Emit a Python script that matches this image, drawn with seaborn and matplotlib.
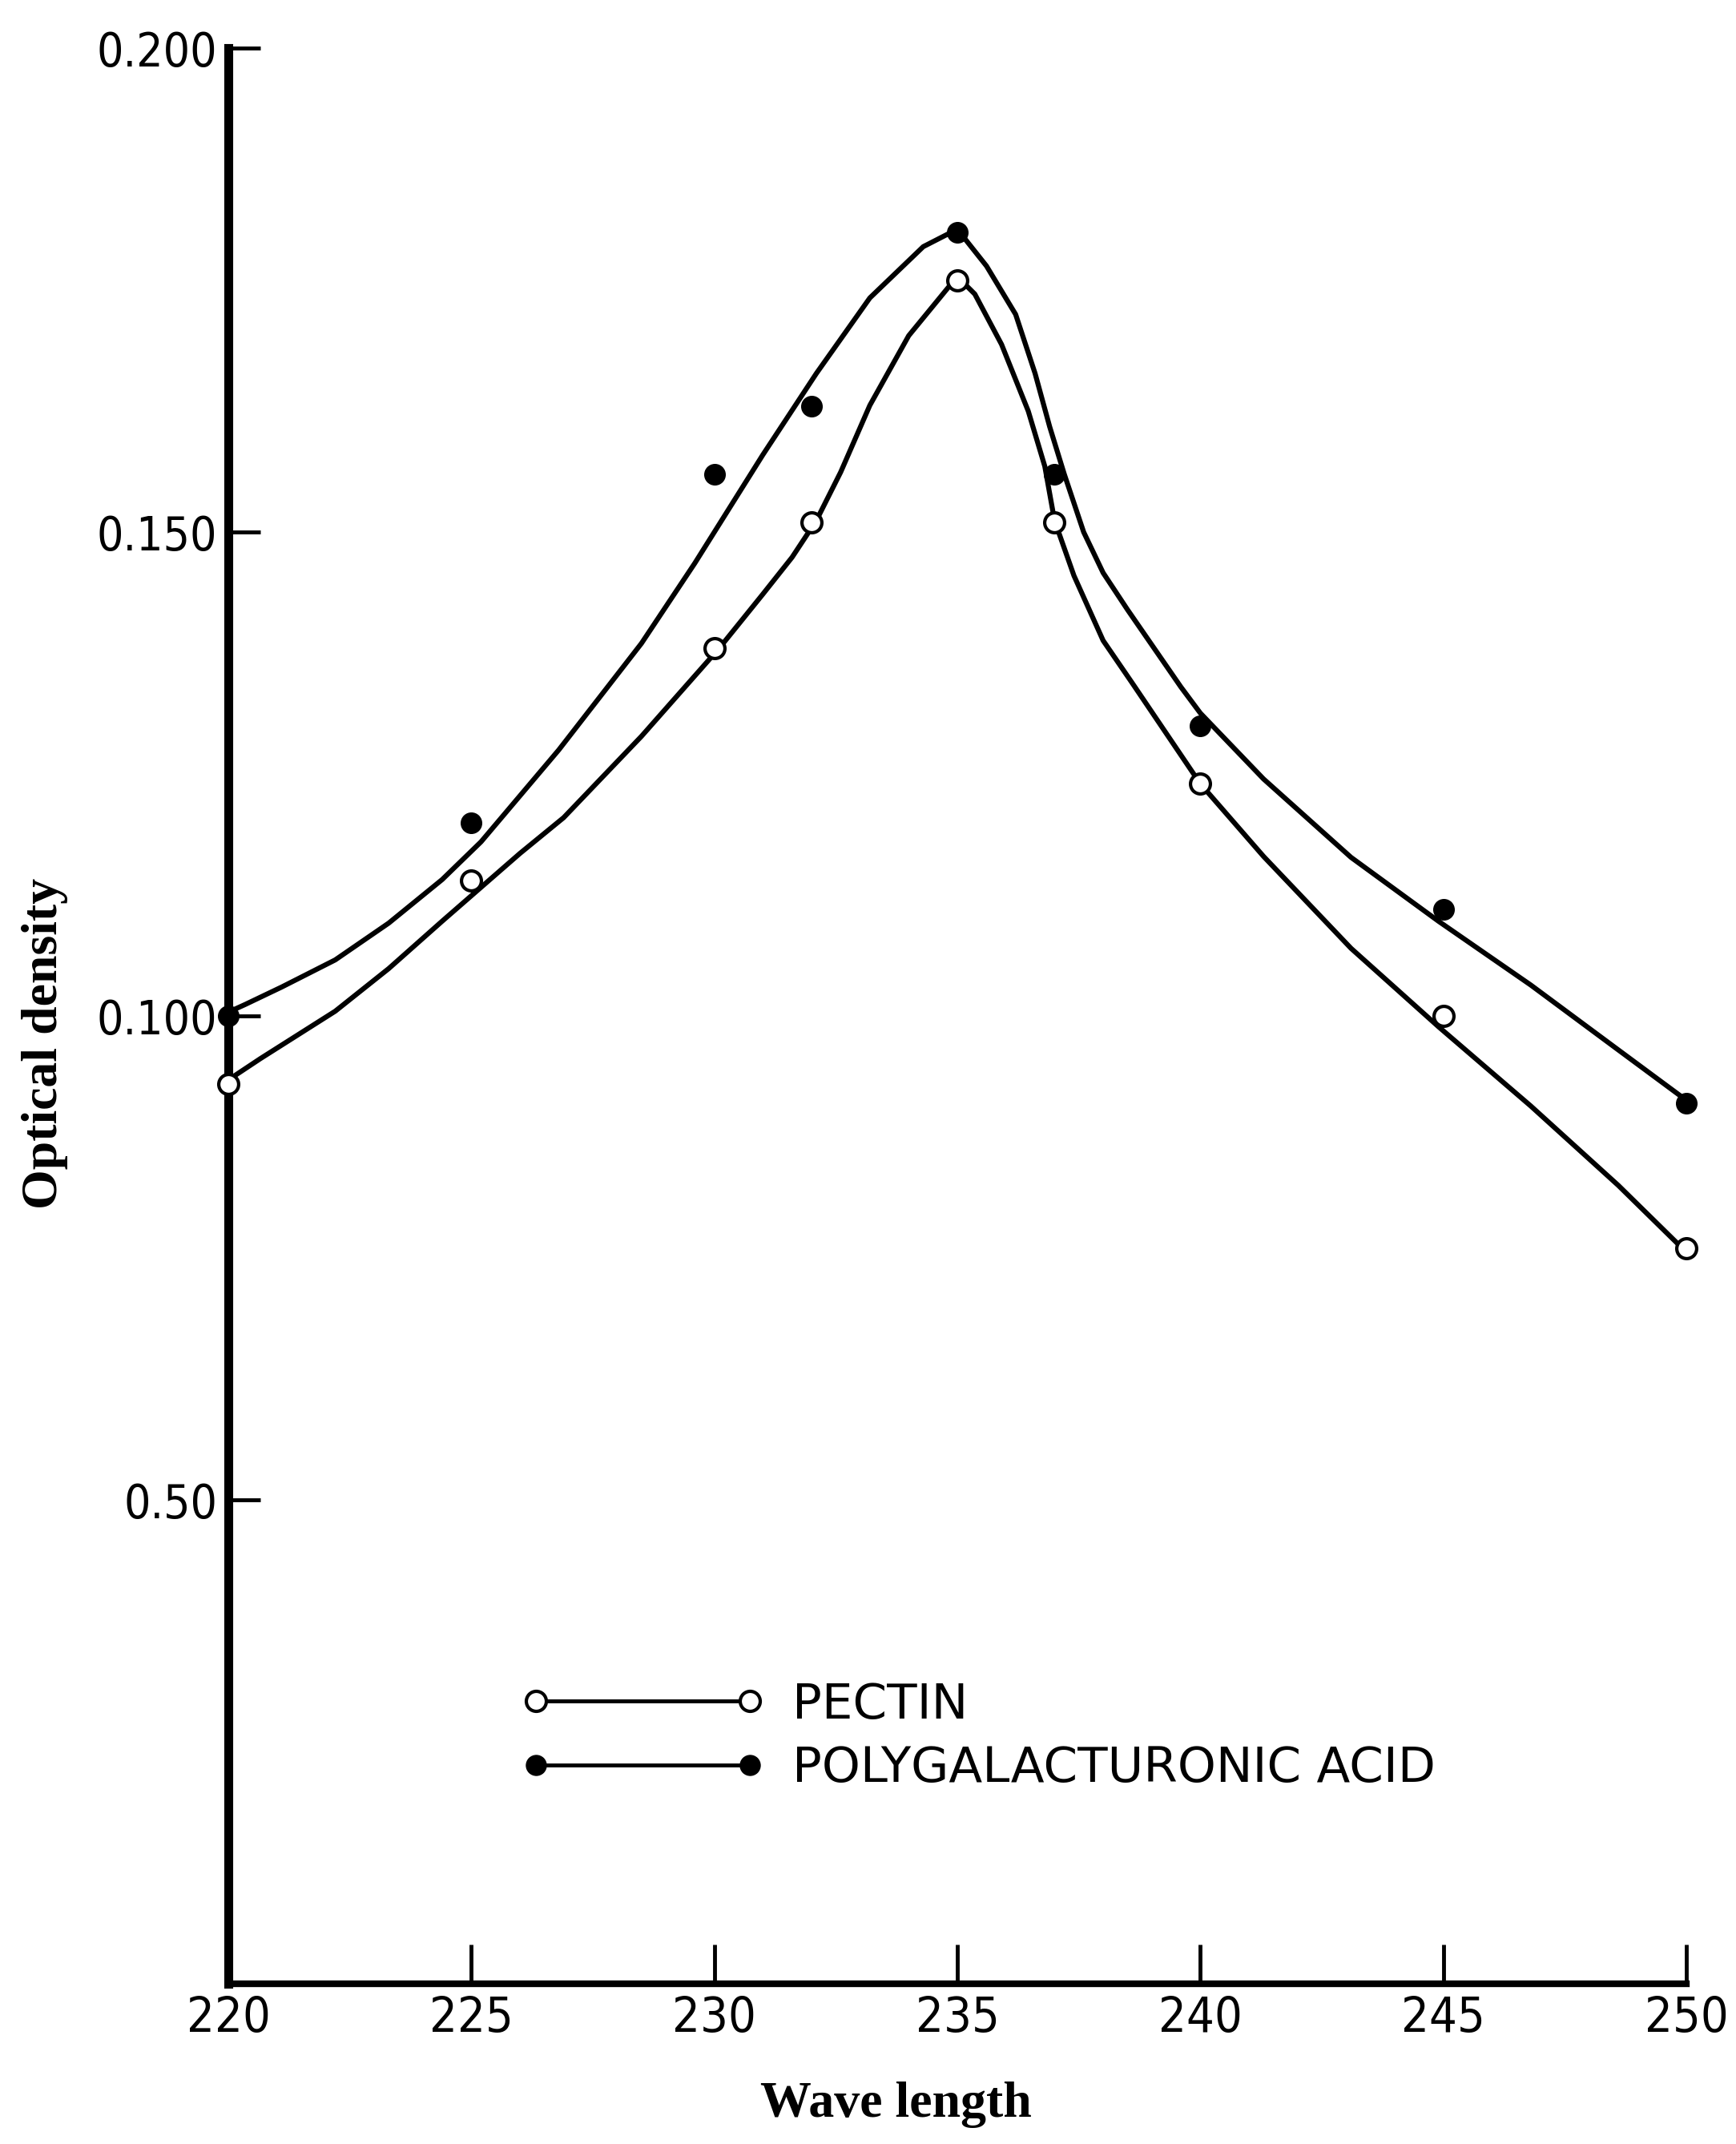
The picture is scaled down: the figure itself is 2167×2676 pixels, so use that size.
import matplotlib
matplotlib.use('Agg')
import matplotlib.pyplot as plt
from matplotlib.lines import Line2D
import pandas as pd
import seaborn as sns

# ── Data ──────────────────────────────────────────────────
wavelength = [220, 225, 230, 232, 235, 237, 240, 245, 250]
pectin = [0.093, 0.114, 0.138, 0.151, 0.176, 0.151, 0.124, 0.100, 0.076]
pga    = [0.100, 0.120, 0.156, 0.163, 0.181, 0.156, 0.130, 0.111, 0.091]

# hand-drawn smooth curves
pectin_curve_wl = [220.0, 220.66, 222.2, 223.3, 224.4, 225.2, 226.0, 226.9, 228.5,
                   230.1, 231.0, 231.6, 232.1, 232.6, 233.2, 234.0, 234.8, 235.0,
                   235.36, 235.91, 236.46, 236.8, 237.0, 237.4, 238.0, 238.6, 240.0,
                   241.3, 243.1, 244.9, 246.8, 248.6, 250.0]
pectin_curve_od = [0.0934, 0.0956, 0.1005, 0.1049, 0.1098, 0.1133, 0.1168, 0.1205, 0.1289,
                   0.1380, 0.1436, 0.1474, 0.1512, 0.1562, 0.1631, 0.1703, 0.1752, 0.1764,
                   0.1746, 0.1694, 0.1625, 0.1568, 0.1512, 0.1455, 0.1388, 0.1344, 0.1240,
                   0.1165, 0.1070, 0.0989, 0.0907, 0.0825, 0.0756]
pga_curve_wl = [220.0, 220.35, 221.1, 222.2, 223.3, 224.4, 225.2, 226.8, 228.5, 229.6,
                231.0, 232.1, 233.2, 234.3, 235.0, 235.6, 236.2, 236.6, 236.9, 237.2,
                237.6, 238.0, 238.5, 239.6, 240.0, 241.3, 243.1, 244.9, 246.8, 248.6,
                250.0]
pga_curve_od = [0.1004, 0.1012, 0.1030, 0.1058, 0.1096, 0.1141, 0.1180, 0.1275, 0.1385, 0.1468,
                0.1580, 0.1664, 0.1742, 0.1795, 0.1813, 0.1775, 0.1725, 0.1664, 0.1609, 0.1560,
                0.1500, 0.1458, 0.1420, 0.1340, 0.1313, 0.1245, 0.1164, 0.1098, 0.1032, 0.0965,
                0.0913]

series_names = ['PECTIN', 'POLYGALACTURONIC ACID']
x_ticks = [220, 225, 230, 235, 240, 245, 250]
y_ticks = [0.05, 0.10, 0.15, 0.20]
y_tick_labels = ['0.50', '0.100', '0.150', '0.200']   # printed this way in the original

points = pd.DataFrame({
    'wl': wavelength * 2,
    'od': pectin + pga,
    'series': [series_names[0]] * len(pectin) + [series_names[1]] * len(pga),
})
curves = pd.DataFrame({
    'wl': pectin_curve_wl + pga_curve_wl,
    'od': pectin_curve_od + pga_curve_od,
    'series': [series_names[0]] * len(pectin_curve_wl) + [series_names[1]] * len(pga_curve_wl),
})

# ── Style ─────────────────────────────────────────────────
sns.set_theme(style='ticks')
plt.rcParams['font.family'] = ['DejaVu Sans']
plt.rcParams['text.color'] = 'black'

fig = plt.figure(figsize=(21.67, 26.76), dpi=100)
ax = fig.add_axes([0.1315, 0.0747, 0.8399, 0.9028])

# ── Curves and points ─────────────────────────────────────
sns.lineplot(data=curves, x='wl', y='od', hue='series',
             palette={series_names[0]: 'black', series_names[1]: 'black'},
             estimator=None, sort=False, legend=False, linewidth=4.5,
             solid_joinstyle='round', solid_capstyle='round', ax=ax)

sns.scatterplot(data=points[points.series == series_names[0]], x='wl', y='od',
                s=320, color='white', edgecolor='black', linewidth=3,
                clip_on=False, zorder=5, legend=False, ax=ax)
sns.scatterplot(data=points[points.series == series_names[1]], x='wl', y='od',
                s=340, color='black', edgecolor='black', linewidth=1,
                clip_on=False, zorder=5, legend=False, ax=ax)

# ── Axes ──────────────────────────────────────────────────
ax.set_xlim(220, 250)
ax.set_ylim(0, 0.2)
ax.set_xticks(x_ticks)
ax.set_xticklabels([str(t) for t in x_ticks])
ax.set_yticks(y_ticks)
ax.set_yticklabels(y_tick_labels)

for s in ['top', 'right']:
    ax.spines[s].set_visible(False)
ax.spines['left'].set_linewidth(8)
ax.spines['bottom'].set_linewidth(6)
ax.spines['left'].set_color('black')
ax.spines['bottom'].set_color('black')

ax.tick_params(axis='y', direction='in', length=29, width=3.5, pad=10,
               labelsize=42, colors='black')
ax.tick_params(axis='x', direction='in', length=35, width=3.5, pad=10,
               labelsize=44, colors='black')
for lab in ax.get_xticklabels() + ax.get_yticklabels():
    lab.set_fontstretch('condensed')

ax.set_xlabel('Wave length', fontsize=46, fontweight='bold',
              family='Liberation Serif', color='black')
ax.set_ylabel('Optical density', fontsize=46, fontweight='bold',
              family='Liberation Serif', color='black')
ax.xaxis.set_label_coords(0.458, -0.0505)
ax.yaxis.set_label_coords(-0.1099, 0.486)

# ── Legend ────────────────────────────────────────────────
handles = [
    Line2D([], [], color='black', lw=3.5, marker='o', ms=18,
           mfc='white', mec='black', mew=3),
    Line2D([], [], color='black', lw=3.5, marker='o', ms=18,
           mfc='black', mec='black'),
]
leg = ax.legend(handles, series_names, numpoints=2, frameon=False,
                loc='center left', bbox_to_anchor=(0.2008, 0.1275),
                handlelength=4.98, handletextpad=0.56, labelspacing=0.34,
                borderpad=0, borderaxespad=0,
                prop=dict(family='DejaVu Sans', size=44))
for t in leg.get_texts():
    t.set_color('black')

fig.savefig('out.png', dpi=100)
